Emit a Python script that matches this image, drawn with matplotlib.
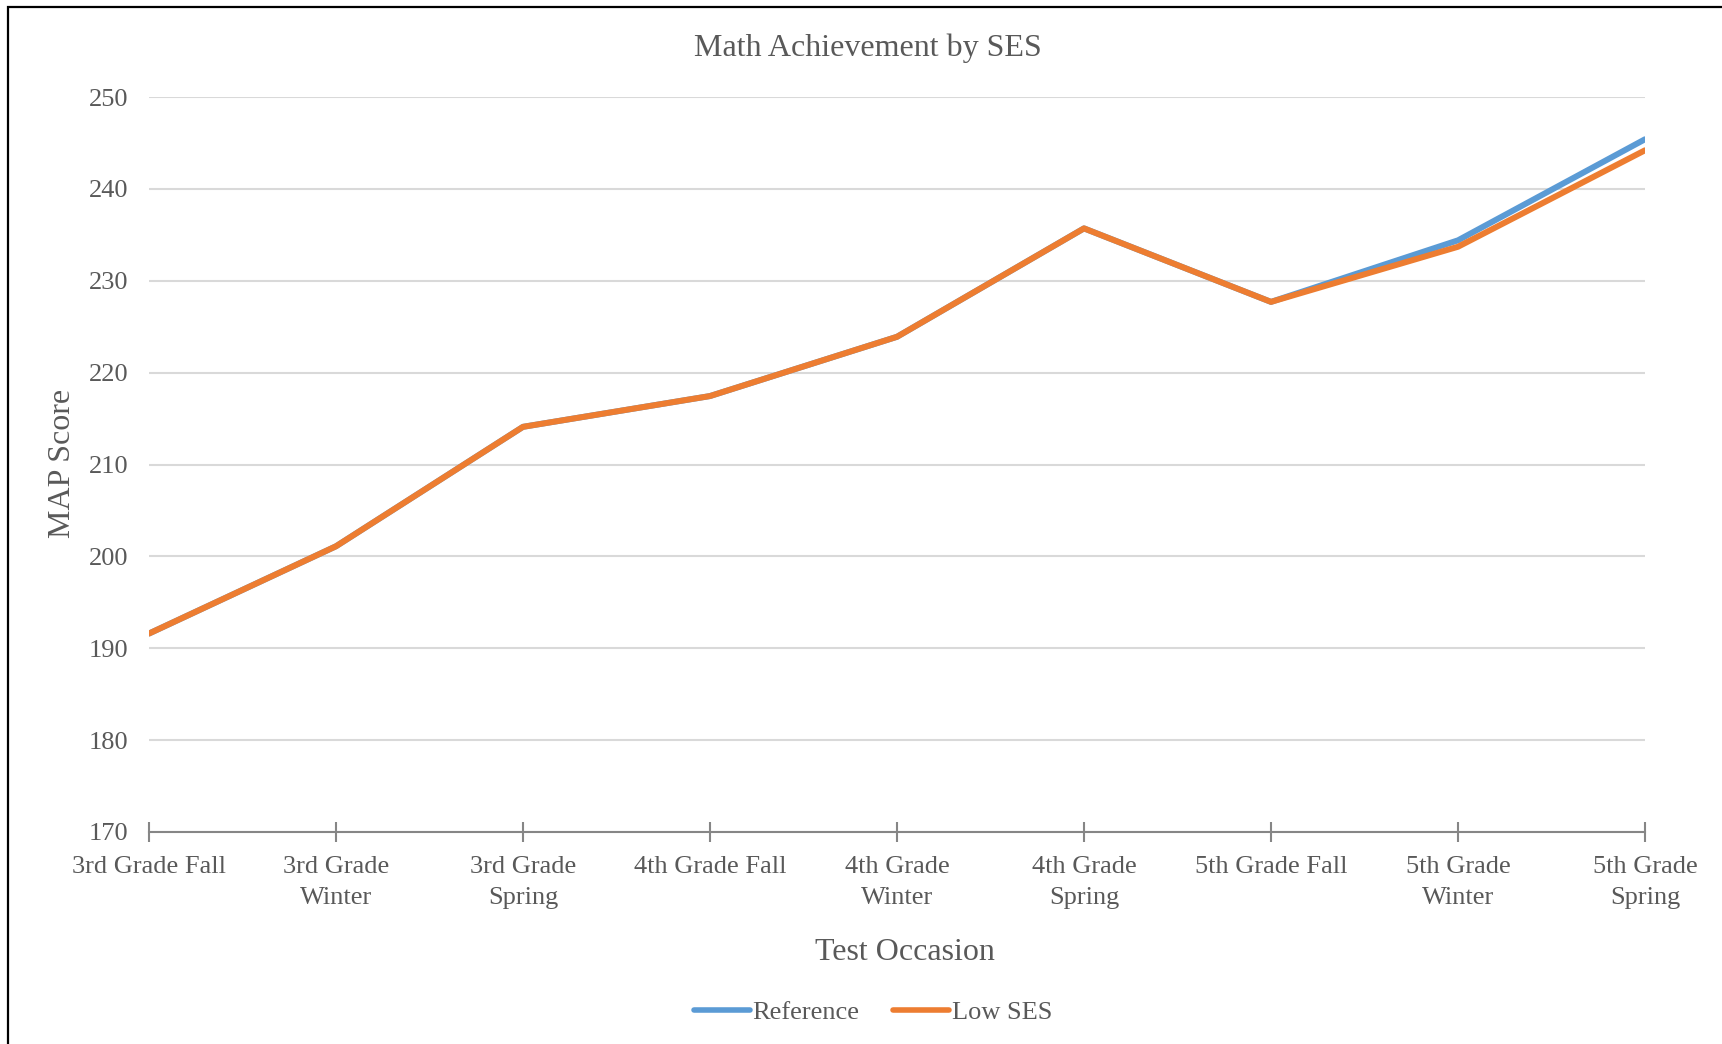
import matplotlib
matplotlib.use("Agg")
import matplotlib.pyplot as plt
from matplotlib.lines import Line2D
from matplotlib.patches import Rectangle

plt.rcParams["font.family"] = ["Liberation Serif", "DejaVu Serif"]

occasions = ["3rd Grade Fall", "3rd Grade\nWinter", "3rd Grade\nSpring",
             "4th Grade Fall", "4th Grade\nWinter", "4th Grade\nSpring",
             "5th Grade Fall", "5th Grade\nWinter", "5th Grade\nSpring"]
reference = [191.6, 201.1, 214.1, 217.45, 223.9, 235.7, 227.7, 234.4, 245.4]
low_ses = [191.6, 201.1, 214.1, 217.45, 223.9, 235.7, 227.7, 233.7, 244.2]
y_ticks = [170, 180, 190, 200, 210, 220, 230, 240, 250]

text_color = "#595959"
W, H = 1722, 1044
fig = plt.figure(figsize=(W / 100, H / 100), dpi=100)

# outer frame (only top and left edges fall inside the canvas)
fig.patches.append(Rectangle((8 / W, -0.1), 1.2, 1 - 7 / H + 0.1,
                             transform=fig.transFigure, fill=False,
                             edgecolor="black", linewidth=1.6))

ax = fig.add_axes([149 / W, 1 - 832 / H, (1645 - 149) / W, (832 - 97) / H])
x = list(range(len(occasions)))
ax.plot(x, reference, color="#5B9BD5", lw=4.3, solid_capstyle="round",
        solid_joinstyle="round", label="Reference", zorder=3)
ax.plot(x, low_ses, color="#ED7D31", lw=4.3, solid_capstyle="round",
        solid_joinstyle="round", label="Low SES", zorder=4)

ax.set_xlim(0, len(occasions) - 1)
ax.set_ylim(170, 250)
ax.set_yticks(y_ticks)
ax.set_xticks(x)
ax.set_xticklabels(occasions, fontsize=19, color=text_color, linespacing=1.5)
ax.tick_params(axis="y", length=0, pad=15, labelsize=19, labelcolor=text_color)
ax.tick_params(axis="x", direction="inout", length=14, width=1.5,
               color="#868686", pad=10.5)
ax.grid(axis="y", color="#D9D9D9", lw=1.5)
ax.set_axisbelow(True)
for s in ["top", "right", "left"]:
    ax.spines[s].set_visible(False)
ax.spines["bottom"].set_color("#868686")
ax.spines["bottom"].set_linewidth(1.5)

fig.text(868 / W, 1 - 48 / H, "Math Achievement by SES", ha="center",
         va="center", fontsize=23, color=text_color)
fig.text(905 / W, 1 - 952 / H, "Test Occasion", ha="center", va="center",
         fontsize=23, color=text_color)
fig.text(63 / W, 1 - 463 / H, "MAP Score", ha="center", va="center",
         rotation=90, fontsize=23, color=text_color)

handles = [Line2D([], [], color="#5B9BD5", lw=4.0, solid_capstyle="round"),
           Line2D([], [], color="#ED7D31", lw=4.0, solid_capstyle="round")]
fig.legend(handles, ["Reference", "Low SES"], loc="center",
           bbox_to_anchor=(873 / W, 1 - 1012 / H), ncol=2, frameon=False,
           fontsize=19, labelcolor=text_color, handlelength=2.1,
           handletextpad=0.1, columnspacing=1.3)

fig.savefig("out.png", dpi=100, facecolor="white")
